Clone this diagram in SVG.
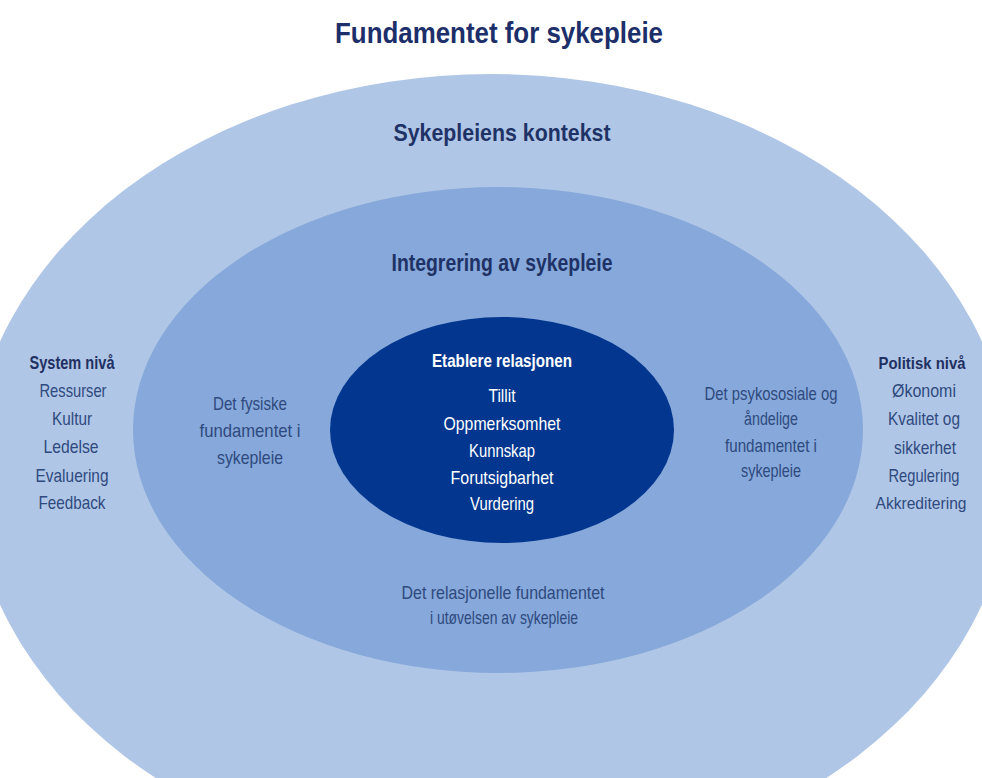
<svg xmlns="http://www.w3.org/2000/svg" width="982" height="778" viewBox="0 0 982 778">
<style>
text{font-family:"Liberation Sans",Arial,sans-serif;text-anchor:middle}
.ttl{font-size:30px;font-weight:bold;fill:#1d2f6a}
.hd{font-size:24px;font-weight:bold;fill:#1f3266}
.lb{font-size:18.5px;font-weight:bold;fill:#1f3062}
.tx{font-size:18.5px;fill:#2f4a7e}
.rt{font-size:17px}
.wb{font-size:18.5px;font-weight:bold;fill:#ffffff}
.wt{font-size:18.5px;fill:#ffffff}
</style>
<rect width="982" height="778" fill="#ffffff"/>
<g id="title">
<text class="ttl" x="499" y="43" textLength="328" lengthAdjust="spacingAndGlyphs">Fundamentet for sykepleie</text>
</g>
<g id="context">
<ellipse cx="491" cy="473" rx="520" ry="399" fill="#b0c6e6"/>
<text class="hd" x="502" y="141" textLength="217" lengthAdjust="spacingAndGlyphs">Sykepleiens kontekst</text>
</g>
<g id="system">
<text class="lb" x="72" y="369" textLength="85" lengthAdjust="spacingAndGlyphs">System nivå</text>
<text class="tx" x="73" y="397" textLength="67" lengthAdjust="spacingAndGlyphs">Ressurser</text>
<text class="tx" x="72" y="425" textLength="40" lengthAdjust="spacingAndGlyphs">Kultur</text>
<text class="tx" x="71" y="453" textLength="55" lengthAdjust="spacingAndGlyphs">Ledelse</text>
<text class="tx" x="72" y="482" textLength="73" lengthAdjust="spacingAndGlyphs">Evaluering</text>
<text class="tx" x="72" y="509" textLength="67" lengthAdjust="spacingAndGlyphs">Feedback</text>
</g>
<g id="politisk">
<text class="lb rt" x="922" y="369" textLength="87" lengthAdjust="spacingAndGlyphs">Politisk nivå</text>
<text class="tx" x="924" y="397" textLength="64" lengthAdjust="spacingAndGlyphs">Økonomi</text>
<text class="tx" x="924" y="425" textLength="72" lengthAdjust="spacingAndGlyphs">Kvalitet og</text>
<text class="tx" x="925" y="454" textLength="62" lengthAdjust="spacingAndGlyphs">sikkerhet</text>
<text class="tx" x="924" y="482" textLength="71" lengthAdjust="spacingAndGlyphs">Regulering</text>
<text class="tx rt" x="921" y="509" textLength="91" lengthAdjust="spacingAndGlyphs">Akkreditering</text>
</g>
<g id="integrering">
<ellipse cx="498" cy="430" rx="365" ry="243" fill="#86a8da"/>
<text class="hd" x="502" y="271" textLength="221" lengthAdjust="spacingAndGlyphs">Integrering av sykepleie</text>
</g>
<g id="fysiske">
<text class="tx" x="250" y="410" textLength="74" lengthAdjust="spacingAndGlyphs">Det fysiske</text>
<text class="tx" x="250" y="437" textLength="101" lengthAdjust="spacingAndGlyphs">fundamentet i</text>
<text class="tx" x="250" y="464" textLength="66" lengthAdjust="spacingAndGlyphs">sykepleie</text>
</g>
<g id="psykososiale">
<text class="tx" x="771" y="400" textLength="133" lengthAdjust="spacingAndGlyphs">Det psykososiale og</text>
<text class="tx" x="771" y="425" textLength="54" lengthAdjust="spacingAndGlyphs">åndelige</text>
<text class="tx" x="771" y="452" textLength="92" lengthAdjust="spacingAndGlyphs">fundamentet i</text>
<text class="tx" x="771" y="477" textLength="60" lengthAdjust="spacingAndGlyphs">sykepleie</text>
</g>
<g id="relasjonelle">
<text class="tx" x="503" y="599" textLength="203" lengthAdjust="spacingAndGlyphs">Det relasjonelle fundamentet</text>
<text class="tx" x="504" y="624" textLength="148" lengthAdjust="spacingAndGlyphs">i utøvelsen av sykepleie</text>
</g>
<g id="relasjonen">
<ellipse cx="502" cy="430" rx="172" ry="113" fill="#03378f"/>
<text class="wb" x="502" y="367" textLength="140" lengthAdjust="spacingAndGlyphs">Etablere relasjonen</text>
<text class="wt" x="502" y="402" textLength="27" lengthAdjust="spacingAndGlyphs">Tillit</text>
<text class="wt" x="502" y="430" textLength="117" lengthAdjust="spacingAndGlyphs">Oppmerksomhet</text>
<text class="wt" x="502" y="457" textLength="66" lengthAdjust="spacingAndGlyphs">Kunnskap</text>
<text class="wt" x="502" y="484" textLength="103" lengthAdjust="spacingAndGlyphs">Forutsigbarhet</text>
<text class="wt" x="502" y="510" textLength="64" lengthAdjust="spacingAndGlyphs">Vurdering</text>
</g>
</svg>
